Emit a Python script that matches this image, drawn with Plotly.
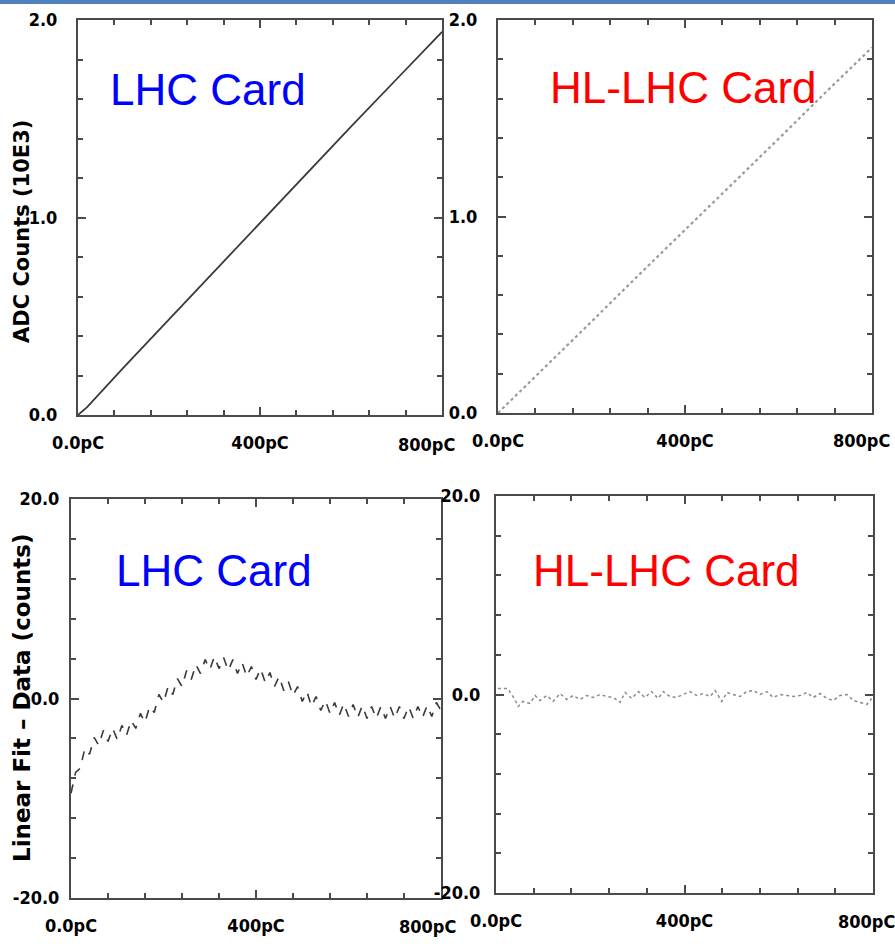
import plotly.graph_objects as go

W, H = 895, 944

# ---- data ----
charge_lhc = [0, 20, 100, 200, 300, 400, 500, 600, 700, 800]
adc_lhc = [0.0, 0.04, 0.24, 0.485, 0.73, 0.97, 1.215, 1.46, 1.70, 1.94]

charge_hl = [0, 100, 200, 300, 400, 500, 600, 700, 800]
adc_hl = [0.0, 0.23, 0.465, 0.70, 0.93, 1.16, 1.395, 1.63, 1.86]

resid_charge_lhc = list(range(0, 801, 10))
resid_lhc = [-9.5, -7.4, -7.0, -5.0, -5.6, -3.9, -4.7, -3.2, -4.3, -3.0,
             -4.1, -2.7, -3.7, -2.2, -3.0, -1.5, -2.4, -0.8, -1.4, 0.4,
             -0.4, 1.2, 0.4, 2.0, 1.2, 2.8, 1.9, 3.4, 2.5, 3.9,
             2.9, 4.2, 3.0, 4.1, 2.8, 3.9, 2.5, 3.6, 2.2, 3.2,
             1.9, 3.0, 1.6, 2.6, 1.2, 2.2, 0.8, 1.7, 0.3, 1.2,
             -0.3, 0.7, -0.8, 0.2, -1.2, -0.2, -1.5, -0.4, -1.7, -0.5,
             -1.8, -0.6, -1.9, -0.7, -2.0, -0.8, -2.0, -0.8, -2.0, -0.8,
             -2.0, -0.8, -2.0, -0.8, -2.0, -0.8, -1.9, -0.7, -1.8, -0.4,
             -1.2]

resid_charge_hl = [4, 25, 40, 47, 57, 72, 83, 93, 108, 121, 136, 150, 164, 178, 193,
                   206, 221, 235, 249, 263, 274, 288, 302, 316, 330, 344, 355, 369,
                   383, 397, 411, 426, 440, 454, 465, 479, 490, 503, 518, 532, 546,
                   560, 575, 588, 603, 617, 631, 645, 660, 673, 688, 702, 716, 730,
                   745, 758, 773, 787, 797]
resid_hl = [0.6, 0.6, -0.5, -1.2, -0.7, -0.9, -0.1, -0.6, -0.1, -0.7, 0.1, -0.5, -0.1,
            -0.5, -0.1, -0.3, 0.0, -0.2, -0.3, -0.8, 0.2, -0.4, 0.3, -0.3, 0.3, -0.4,
            0.3, -0.2, -0.3, 0.0, 0.3, -0.1, 0.1, -0.2, 0.4, -0.7, 0.2, 0.0, -0.2, 0.3,
            0.4, 0.0, 0.3, -0.3, 0.0, -0.1, -0.2, -0.1, 0.2, -0.3, 0.1, -0.4, -0.6,
            -0.1, 0.0, -0.6, -0.8, -1.0, -0.4]

x_tickvals = [0, 400, 800]
x_ticktext = ["0.0pC", "400pC", ""]     # the 800pC label is placed separately (shifted left as in the original)
x_end_label = "800pC"
adc_tickvals = [0, 1, 2]
adc_ticktext = ["0.0", "1.0", "2.0"]
res_tickvals = [-20, 0, 20]
res_ticktext = ["-20.0", "0.0", "20.0"]

# ---- layout helpers ----
def dom_x(a, b):
    return [a / W, b / W]

def dom_y(top, bottom):
    return [1 - bottom / H, 1 - top / H]

tickfont = dict(family="DejaVu Sans Condensed, Liberation Sans, sans-serif", size=18,
                color="black", weight="bold")
axcol = "#4a4a4a"

def xaxis(domain, anchor):
    return dict(domain=domain, anchor=anchor, range=[0, 800], showgrid=False, zeroline=False,
                automargin=False, ticklabeloverflow="allow",
                showline=True, linecolor=axcol, linewidth=2, mirror="ticks",
                ticks="inside", ticklen=8, tickwidth=1.5, tickcolor=axcol,
                tickvals=x_tickvals, ticktext=x_ticktext, tickfont=tickfont,
                ticklabelstandoff=10,
                minor=dict(dtick=80, tick0=0, ticks="inside", ticklen=5, tickwidth=1.5,
                           tickcolor=axcol, showgrid=False))

def yaxis(domain, anchor, rng, tv, tt, dt, standoff):
    return dict(domain=domain, anchor=anchor, range=rng, showgrid=False, zeroline=False,
                automargin=False, ticklabeloverflow="allow",
                showline=True, linecolor=axcol, linewidth=2, mirror="ticks",
                ticks="inside", ticklen=8, tickwidth=1.5, tickcolor=axcol,
                tickvals=tv, ticktext=tt, tickfont=tickfont, ticklabelstandoff=standoff,
                minor=dict(dtick=dt, tick0=0, ticks="inside", ticklen=5, tickwidth=1.5,
                           tickcolor=axcol, showgrid=False))

fig = go.Figure()

fig.add_trace(go.Scatter(x=charge_lhc, y=adc_lhc, mode="lines",
                         line=dict(color="#3a3a3a", width=1.8), xaxis="x", yaxis="y"))
fig.add_trace(go.Scatter(x=charge_hl, y=adc_hl, mode="lines",
                         line=dict(color="#9a9a9a", width=2.2, dash="dot"), xaxis="x2", yaxis="y2"))
fig.add_trace(go.Scatter(x=resid_charge_lhc, y=resid_lhc, mode="lines",
                         line=dict(color="#3a3a3a", width=1.6, dash="dash"), xaxis="x3", yaxis="y3"))
fig.add_trace(go.Scatter(x=resid_charge_hl, y=resid_hl, mode="lines",
                         line=dict(color="#8a8a8a", width=1.5, dash="dot"), xaxis="x4", yaxis="y4"))

fig.update_layout(
    width=W, height=H, margin=dict(l=0, r=0, t=0, b=0, autoexpand=False),
    paper_bgcolor="white", plot_bgcolor="white", showlegend=False,
    xaxis=xaxis(dom_x(78, 442), "y"),
    yaxis=yaxis(dom_y(20, 415), "x", [0, 2.0], adc_tickvals, adc_ticktext, 0.2, 15),
    xaxis2=xaxis(dom_x(498, 872), "y2"),
    yaxis2=yaxis(dom_y(20, 413), "x2", [0, 2.0], adc_tickvals, adc_ticktext, 0.2, 15),
    xaxis3=xaxis(dom_x(71, 441), "y3"),
    yaxis3=yaxis(dom_y(499, 898), "x3", [-20, 20], res_tickvals, res_ticktext, 4, 6),
    xaxis4=xaxis(dom_x(496, 873), "y4"),
    yaxis4=yaxis(dom_y(496, 893), "x4", [-20, 20], res_tickvals, res_ticktext, 4, 10),
)

def px(x):
    return x / W

def py(y):
    return 1 - y / H

# "800pC" end labels, shifted left of the last tick so they stay on the page
for xc, yc in [(426, 444), (861, 441), (427, 926), (866, 921)]:
    fig.add_annotation(text=x_end_label, x=px(xc), y=py(yc), xref="paper", yref="paper",
                       showarrow=False, xanchor="center", yanchor="middle", font=tickfont)

card_font = "Liberation Sans"
ann = [
    dict(text="LHC Card", x=px(208), y=py(90), color="#0000FF"),
    dict(text="HL-LHC Card", x=px(683), y=py(88), color="#FF0000"),
    dict(text="LHC Card", x=px(214), y=py(570), color="#0000FF"),
    dict(text="HL-LHC Card", x=px(666), y=py(570), color="#FF0000"),
]
for a in ann:
    fig.add_annotation(text=a["text"], x=a["x"], y=a["y"], xref="paper", yref="paper",
                       showarrow=False, xanchor="center", yanchor="middle",
                       font=dict(family=card_font, size=44, color=a["color"]))

fig.add_annotation(text="ADC Counts (10E3)", x=px(22), y=py(232), xref="paper", yref="paper",
                   showarrow=False, textangle=-90, xanchor="center", yanchor="middle",
                   font=dict(family="DejaVu Sans", size=21, color="black", weight="bold"))
fig.add_annotation(text="Linear Fit \u2013 Data (counts)", x=px(22), y=py(698), xref="paper", yref="paper",
                   showarrow=False, textangle=-90, xanchor="center", yanchor="middle",
                   font=dict(family="DejaVu Sans", size=23, color="black", weight="bold"))

# blue stripe at top of the slide
fig.add_shape(type="rect", xref="paper", yref="paper", x0=0, x1=1, y0=py(4), y1=1,
              fillcolor="#4F81BD", line=dict(width=0), layer="above")

fig.write_html("out.html")
